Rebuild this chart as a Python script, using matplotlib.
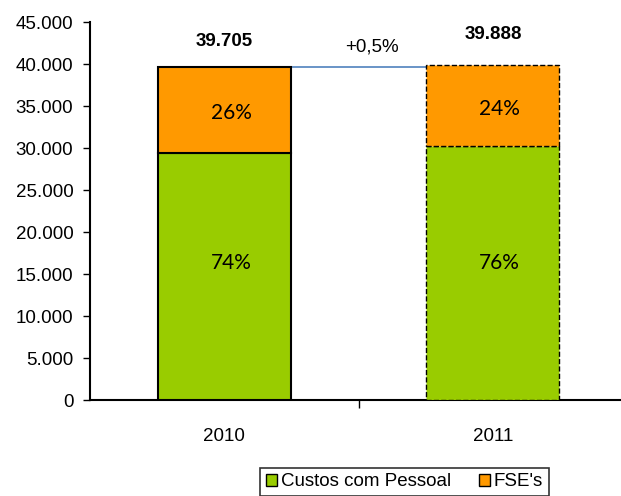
import numpy as np
import matplotlib.pyplot as plt
from matplotlib.patches import Patch
from matplotlib.ticker import FuncFormatter

years = ['2010', '2011']
pessoal = [29400, 30300]
fse = [10305, 9588]
totals = [39705, 39888]
pct_pessoal = ['74%', '76%']
pct_fse = ['26%', '24%']
variation = '+0,5%'

green = '#99cc00'
orange = '#ff9900'

plt.rcParams['font.family'] = 'Liberation Sans'

fig = plt.figure(figsize=(6.21, 4.96), dpi=100)
ax = fig.add_axes([0.145, 0.1935, 0.865, 0.762])

x = np.arange(len(years))
w = 0.495
styles = ['solid', 'dashed']
lws = [1.5, 1.0]
for i in range(len(years)):
    ax.bar(x[i], pessoal[i], w, color=green, edgecolor='black', linewidth=lws[i], linestyle=styles[i], zorder=3)
    ax.bar(x[i], fse[i], w, bottom=pessoal[i], color=orange, edgecolor='black', linewidth=lws[i], linestyle=styles[i], zorder=3)
    # labels sit a bit above the segment centre, like the original
    ax.text(x[i] + 0.025, 16300, pct_pessoal[i], ha='center', va='center', fontsize=15, family='Lato')
    ax.text(x[i] + 0.025, pessoal[i] + fse[i] / 2 - 400, pct_fse[i], ha='center', va='center', fontsize=15, family='Lato')

ax.text(x[0], 42700, f'{totals[0]:,}'.replace(',', '.'), ha='center', va='center', fontsize=13.5, fontweight='bold')
ax.text(x[1], 43500, f'{totals[1]:,}'.replace(',', '.'), ha='center', va='center', fontsize=13.5, fontweight='bold')
ax.text(0.55, 42000, variation, ha='center', va='center', fontsize=13.5)
ax.plot([x[0] + w / 2, x[1] - w / 2], [totals[0], totals[0]], color='#4f81bd', linewidth=1.2, zorder=2)

ax.set_xlim(-0.5, 1.5)
ax.set_ylim(0, 45000)
ax.set_yticks(np.arange(0, 45001, 5000))
ax.yaxis.set_major_formatter(FuncFormatter(lambda v, p: f'{int(v):,}'.replace(',', '.')))
ax.set_xticks([0.5])
ax.set_xticklabels([''])
ax.set_xticks(x, minor=True)
ax.set_xticklabels(years, minor=True)
ax.tick_params(axis='x', which='minor', length=0, pad=20, labelsize=13.5)
ax.tick_params(axis='x', which='major', direction='out', length=6, width=1)
ax.tick_params(axis='y', direction='out', length=5, width=1, labelsize=13.5, pad=7)

ax.spines['top'].set_visible(False)
ax.spines['right'].set_visible(False)
ax.spines['left'].set_linewidth(1.5)
ax.spines['bottom'].set_linewidth(1.5)

handles = [Patch(facecolor=green, edgecolor='black', label='Custos com Pessoal'),
           Patch(facecolor=orange, edgecolor='black', label="FSE's")]
leg = fig.legend(handles=handles, loc='upper center', bbox_to_anchor=(0.651, 0.057), ncol=2,
                 frameon=True, fancybox=False, edgecolor='black', fontsize=13.5,
                 handlelength=0.6, handleheight=0.6, handletextpad=0.2, columnspacing=1.5,
                 borderpad=0.3, borderaxespad=0)
leg.get_frame().set_linewidth(1.2)

fig.savefig('out.png', dpi=100)
